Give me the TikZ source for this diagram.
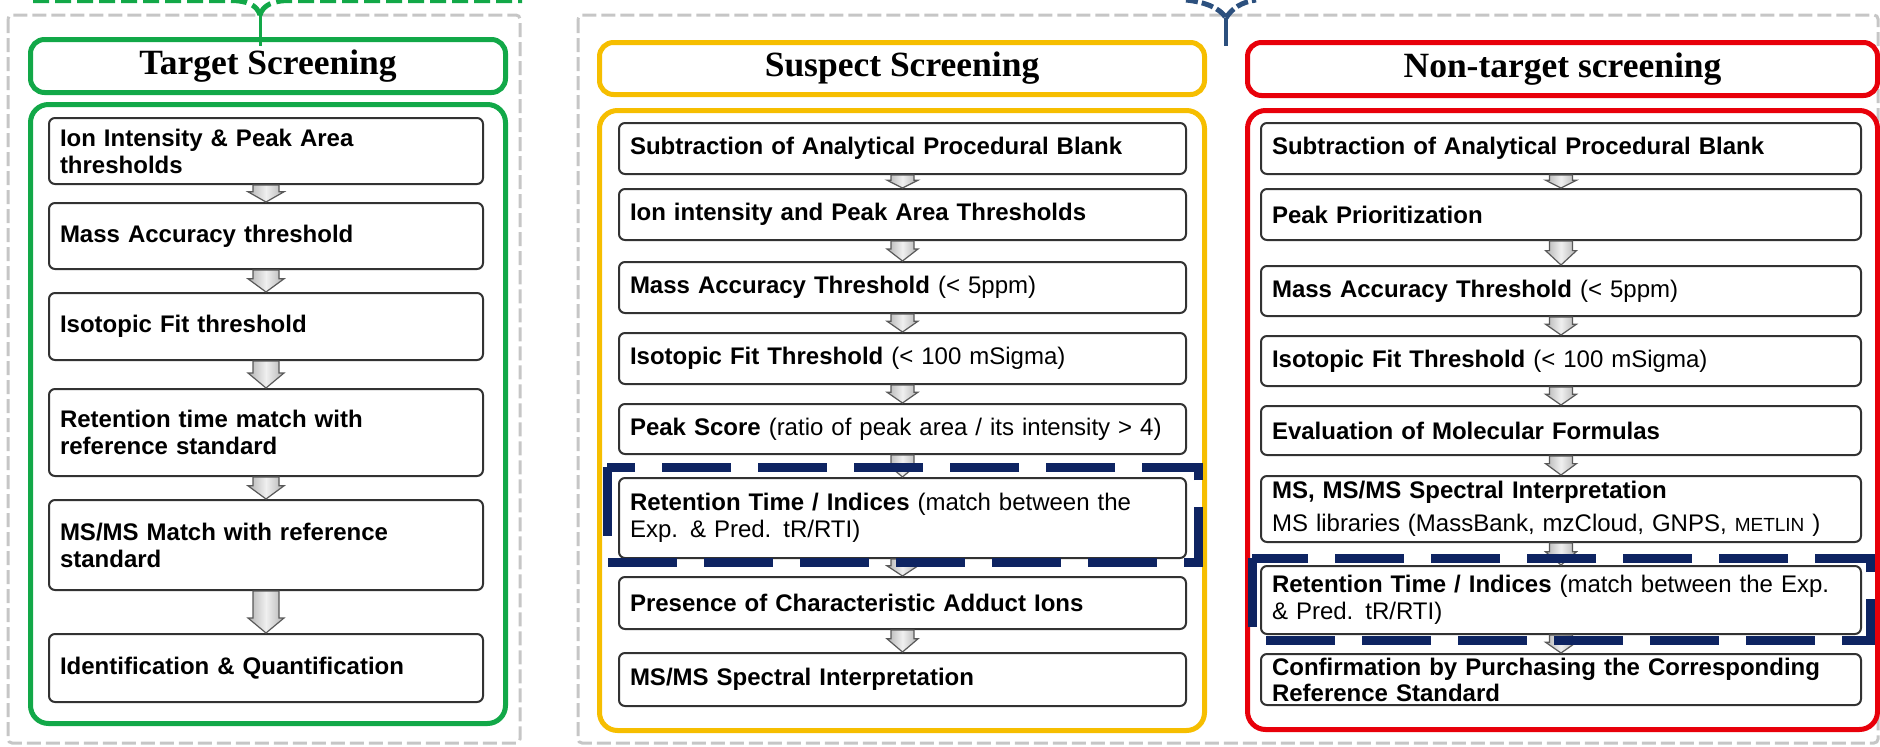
\documentclass[tikz,border=0pt]{standalone}
\usepackage{fontspec}
\setmainfont{Liberation Sans}
\newfontfamily\titlefont{Liberation Serif}
\usetikzlibrary{calc}
\definecolor{tgreen}{RGB}{18,168,72}
\definecolor{tyellow}{RGB}{246,190,0}
\definecolor{tred}{RGB}{232,0,10}
\definecolor{tnavy}{RGB}{14,36,98}
\definecolor{tblue}{RGB}{44,80,126}
\definecolor{boxline}{RGB}{50,50,50}
\definecolor{dashgray}{RGB}{198,198,198}
\tikzset{
 outerbox/.style={draw=dashgray, line width=3pt, dash pattern=on 14pt off 5pt, rounded corners=4pt},
 titlebox/.style={rounded corners=14pt, line width=5pt, fill=white, inner sep=0pt, anchor=north west, font=\titlefont\bfseries\fontsize{35.5}{40}\selectfont},
 contentbox/.style={rounded corners=18pt, line width=5pt, inner sep=0pt, anchor=north west},
 stepbox/.style={draw=boxline, line width=2pt, rounded corners=6pt, fill=white, inner xsep=11pt, inner ysep=0pt, align=left, anchor=north west, font=\fontsize{24}{27}\selectfont},
 lstep/.style={stepbox, text width=412pt},
 mstep/.style={stepbox, text width=545pt},
 rstep/.style={stepbox, text width=578pt},
 navybox/.style={draw=tnavy, line width=9pt, dash pattern=on 69pt off 27pt},
 arrowfill/.style={draw=black!65, line width=1.2pt, left color=gray!60, right color=gray!60, middle color=gray!12},
}
% #1 from node, #2 to node, #3 shaft half width, #4 head half width
\newcommand{\flowarrow}[4]{%
 \path[arrowfill] let \p1=(#1.south), \p2=(#2.north), \n1={min(15,0.6*(\y1-\y2))} in
 ({\x1-#3pt},\y1) -- ({\x1+#3pt},\y1) -- ({\x1+#3pt},{\y2+\n1*1pt}) -- ({\x1+#4pt},{\y2+\n1*1pt}) -- (\x1,\y2) -- ({\x1-#4pt},{\y2+\n1*1pt}) -- ({\x1-#3pt},{\y2+\n1*1pt}) -- cycle;}
\begin{document}
\begin{tikzpicture}[x=1pt,y=-1pt]
\useasboundingbox (0,0) rectangle (1880,747);
% outer dashed frames
\draw[outerbox] (8,15) rectangle (520,743);
\draw[outerbox] (578,15) rectangle (1878,743);
% column frames
\node[titlebox, draw=tgreen, minimum width=475pt, minimum height=53pt] (tgt) at (28,37) {Target Screening};
\node[contentbox, draw=tgreen, minimum width=475pt, minimum height=619pt] (tgtc) at (28,102) {};
\node[titlebox, draw=tyellow, minimum width=605pt, minimum height=52pt] (sus) at (597,40) {Suspect Screening};
\node[contentbox, draw=tyellow, minimum width=605pt, minimum height=620pt] (susc) at (597,108) {};
\node[titlebox, draw=tred, minimum width=630pt, minimum height=53pt] (non) at (1245,40) {Non-target screening};
\node[contentbox, draw=tred, minimum width=630pt, minimum height=619pt] (nonc) at (1245,108) {};
% left column
\node[lstep, minimum height=66pt] (l1) at (48,117) {\textbf{Ion Intensity \& Peak Area}\\\textbf{thresholds}};
\node[lstep, minimum height=66pt] (l2) at (48,202) {\textbf{Mass Accuracy threshold}};
\node[lstep, minimum height=67pt] (l3) at (48,292) {\textbf{Isotopic Fit threshold}};
\node[lstep, minimum height=87pt] (l4) at (48,388) {\textbf{Retention time match with}\\\textbf{reference standard}};
\node[lstep, minimum height=90pt] (l5) at (48,499) {\textbf{MS/MS Match with reference}\\\textbf{standard}};
\node[lstep, minimum height=68pt] (l6) at (48,633) {\textbf{Identification \& Quantification}};
% middle column
\node[mstep, minimum height=51pt] (m1) at (618,122) {\textbf{Subtraction of Analytical Procedural Blank}};
\node[mstep, minimum height=51pt] (m2) at (618,188) {\textbf{Ion intensity and Peak Area Thresholds}};
\node[mstep, minimum height=51pt] (m3) at (618,261) {\textbf{Mass Accuracy Threshold} (< 5ppm)};
\node[mstep, minimum height=51pt] (m4) at (618,332) {\textbf{Isotopic Fit Threshold} (< 100 mSigma)};
\node[mstep, minimum height=50pt] (m5) at (618,403) {\textbf{Peak Score} (ratio of peak area / its intensity > 4)};
\node[mstep, minimum height=80pt] (m6) at (618,477) {\textbf{Retention Time / Indices} (match between the\\Exp. \& Pred. tR/RTI)};
\node[mstep, minimum height=52pt] (m7) at (618,576) {\textbf{Presence of Characteristic Adduct Ions}};
\node[mstep, minimum height=53pt] (m8) at (618,652) {\textbf{MS/MS Spectral Interpretation}};
% right column
\node[rstep, minimum height=51pt] (r1) at (1260,122) {\textbf{Subtraction of Analytical Procedural Blank}};
\node[rstep, minimum height=51pt] (r2) at (1260,188) {\textbf{Peak Prioritization}};
\node[rstep, minimum height=50pt] (r3) at (1260,265) {\textbf{Mass Accuracy Threshold} (< 5ppm)};
\node[rstep, minimum height=50pt] (r4) at (1260,335) {\textbf{Isotopic Fit Threshold} (< 100 mSigma)};
\node[rstep, minimum height=49pt] (r5) at (1260,405) {\textbf{Evaluation of Molecular Formulas}};
\node[rstep, minimum height=66pt] (r6) at (1260,475) {\textbf{MS, MS/MS Spectral Interpretation}\\[6pt]MS libraries (MassBank, mzCloud, GNPS, {\fontsize{19}{27}\selectfont METLIN} )};
\node[rstep, minimum height=68pt] (r7) at (1260,565) {\textbf{Retention Time / Indices} (match between the Exp.\\\& Pred. tR/RTI)};
\node[rstep, minimum height=51pt, font=\fontsize{24}{26}\selectfont] (r8) at (1260,653) {\textbf{Confirmation by Purchasing the Corresponding}\\\textbf{Reference Standard}};
% arrows
\foreach \a/\b in {l1/l2,l2/l3,l3/l4,l4/l5,l5/l6}
  {\flowarrow{\a}{\b}{13}{18}}
\foreach \a/\b in {m1/m2,m2/m3,m3/m4,m4/m5,m5/m6,m6/m7,m7/m8,r1/r2,r2/r3,r3/r4,r4/r5,r5/r6,r6/r7,r7/r8}
  {\flowarrow{\a}{\b}{11.5}{15.5}}
% highlighted retention boxes
\draw[navybox] (607,467) rectangle (1198,562);
\draw[navybox] (1252,558) rectangle (1870,640);
% braces on top
\coordinate (gtip) at (260,15);
\draw[tgreen, line width=5pt, dash pattern=on 16pt off 6pt] (33,0.5) -- (230,0.5) .. controls (247,0.5) and (257,5) .. (gtip);
\draw[tgreen, line width=5pt, dash pattern=on 16pt off 6pt] (gtip) .. controls (263,5) and (273,0.5) .. (290,0.5) -- (522,0.5);
\draw[tgreen, line width=3pt] (gtip) -- ($(gtip |- tgt.north)+(0,9)$);
\coordinate (btip) at (1226,18);
\draw[tblue, line width=5pt, dash pattern=on 12pt off 4pt] (1186,0) .. controls (1205,2) and (1220,8) .. (btip);
\draw[tblue, line width=5pt, dash pattern=on 12pt off 4pt] (btip) .. controls (1232,8) and (1242,2) .. (1256,0);
\draw[tblue, line width=3.5pt] (btip) -- (1226,46);
\end{tikzpicture}
\end{document}
